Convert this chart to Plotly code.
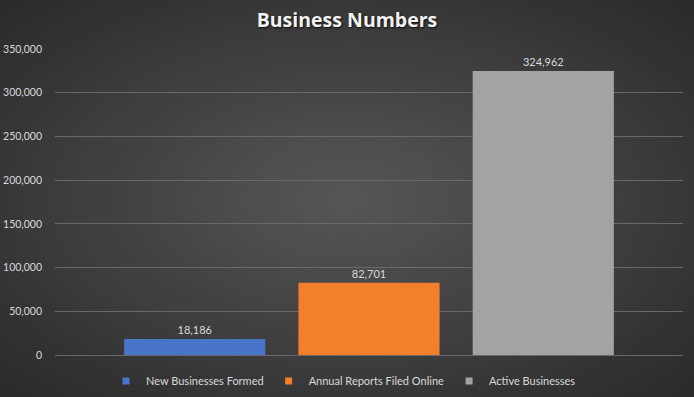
import plotly.graph_objects as go

category = ["Business Numbers"]
series_names = ["New Businesses Formed", "Annual Reports Filed Online", "Active Businesses"]
series_values = [18186, 82701, 324962]
series_colors = ["#4875ca", "#f27f2c", "#a3a3a3"]
y_ticks = [0, 50000, 100000, 150000, 200000, 250000, 300000, 350000]

W, H = 694, 397
ML, MR, MT, MB = 55, 11, 49, 42

fig = go.Figure()
for name, val, col in zip(series_names, series_values, series_colors):
    fig.add_trace(go.Bar(
        x=category, y=[val], name=name, legendgroup=name, showlegend=False,
        marker=dict(color=col, line=dict(width=0)),
        text=[f"{val:,}"], textposition="outside",
        textfont=dict(color="#d9d9d9", size=11, family="Lato"),
        cliponaxis=False,
    ))
# legend entries with small square swatches
for name, col in zip(series_names, series_colors):
    fig.add_trace(go.Scatter(
        x=[None], y=[None], mode="markers", name=name, legendgroup=name,
        marker=dict(symbol="square", size=7, color=col), showlegend=True,
    ))

# radial background gradient (stepped ellipses)
pw, ph = W - ML - MR, H - MT - MB
cx = (W / 2 - ML) / pw
cy = (H - MB - H / 2) / ph
c_out, c_in = (0x2a, 0x2a, 0x2a), (0x56, 0x56, 0x56)
shapes = []
n = 48
for i in range(n):
    f = 1 - i / n
    t = i / (n - 1)
    col = tuple(round(a + (b - a) * t) for a, b in zip(c_out, c_in))
    rx = (W / 2) * 1.42 * f / pw
    ry = (H / 2) * 1.42 * f / ph
    shapes.append(dict(
        type="circle", xref="paper", yref="paper", layer="below",
        x0=cx - rx, x1=cx + rx, y0=cy - ry, y1=cy + ry,
        fillcolor="rgb(%d,%d,%d)" % col, line=dict(width=0),
    ))

fig.update_layout(
    width=W, height=H,
    margin=dict(l=ML, r=MR, t=MT, b=MB, autoexpand=False),
    paper_bgcolor="#2a2a2a",
    plot_bgcolor="rgba(0,0,0,0)",
    barmode="group", bargap=0.1675, bargroupgap=0.19,
    shapes=shapes,
    title=dict(text="<b>Business Numbers</b>", x=0.5, xref="container", xanchor="center",
               y=1 - 20.5 / H, yref="container", yanchor="middle",
               font=dict(family="Open Sans", size=19.5, color="#f2f2f2",
                         shadow="1px 1px 2px rgba(0,0,0,0.8)")),
    font=dict(family="Lato", size=11, color="#d9d9d9"),
    xaxis=dict(showticklabels=False, showgrid=False, zeroline=False, showline=False,
               automargin=False, fixedrange=True),
    yaxis=dict(range=[0, 350000], tickvals=y_ticks, tickformat=",d", automargin=False,
               gridcolor="#696969", gridwidth=1, zeroline=True, zerolinecolor="#696969",
               zerolinewidth=1, showline=False, ticks="", ticklabelstandoff=12,
               tickfont=dict(family="Lato", size=10.5, color="#d9d9d9"), fixedrange=True),
    legend=dict(orientation="h", x=0.495, xref="container", xanchor="center",
                y=(H - 381) / H, yref="container", yanchor="middle",
                font=dict(family="Lato", size=11, color="#d9d9d9"),
                bgcolor="rgba(0,0,0,0)", itemwidth=30, traceorder="normal"),
    showlegend=True,
)

fig.write_html("out.html", config={"displayModeBar": False},
               post_script="document.body.style.margin='0';")
